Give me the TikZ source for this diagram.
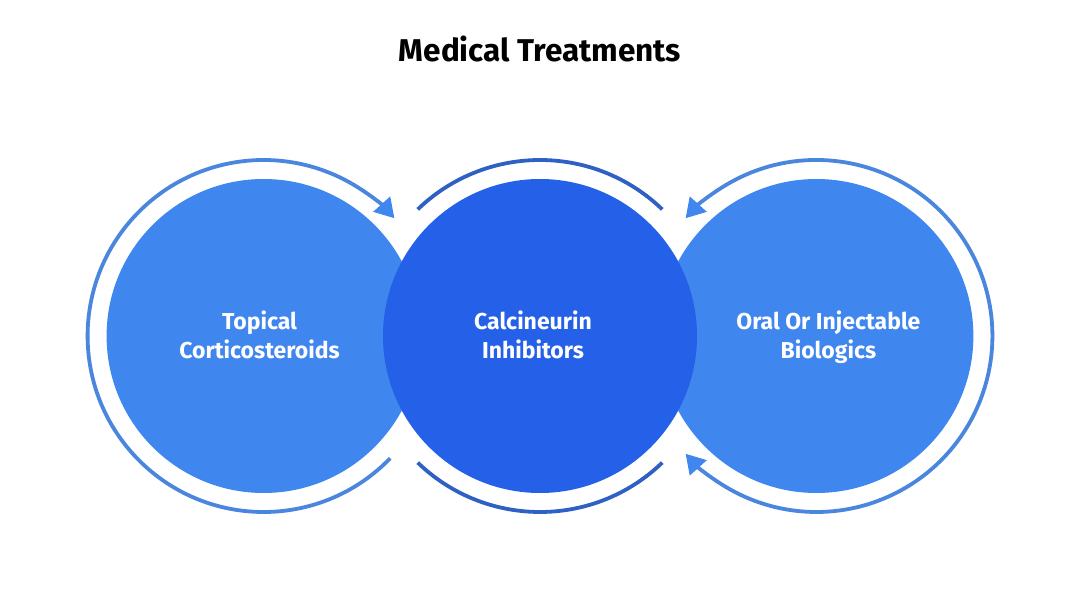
\documentclass[tikz,border=0pt]{standalone}
\usepackage{fontspec}
\setmainfont{Fira Sans}
\usetikzlibrary{positioning,arrows.meta,backgrounds}
\definecolor{sidefill}{HTML}{3F86EE}
\definecolor{midfill}{HTML}{2561E8}
\definecolor{sidering}{HTML}{4A86DE}
\definecolor{midring}{HTML}{2F60C4}
\tikzset{
  bubble/.style={circle, minimum size=314pt, inner sep=0pt},
  caption/.style={align=center, text=white, inner sep=0pt,
    font=\fontsize{23}{29}\selectfont\bfseries},
  ring/.style={line width=3.8pt, line cap=butt},
  tipped/.style={-{Triangle[length=19pt,width=22pt,color=sidefill]}},
}

\begin{document}
\begin{tikzpicture}[x=1pt, y=1pt]
    \useasboundingbox (-540,-272) rectangle (540,336);

    \node[bubble, fill=midfill] (mid) at (0,0) {};
    \begin{scope}[on background layer]
      \node[bubble, fill=sidefill, left=-38pt of mid] (topical) {};
      \node[bubble, fill=sidefill, right=-38pt of mid] (oral) {};
    \end{scope}

    \node[caption] (midtext) at ([xshift=-7pt,yshift=-2.5pt]mid) {\strut Calcineurin\\\strut Inhibitors};
    \node[caption] (topicaltext) at ([xshift=-4pt,yshift=-2.5pt]topical) {\strut Topical\\\strut Corticosteroids};
    \node[caption] (oraltext) at ([xshift=12pt,yshift=-2.5pt]oral) {\strut Oral Or Injectable\\\strut Biologics};

    \node[above=113pt of mid, font=\fontsize{31.5}{36}\selectfont\bfseries] (title) {Medical Treatments};

    % rings round the circles
    \draw[ring, midring] ([shift={(134:176)}]mid.center) arc[start angle=134, end angle=46, radius=176];
    \draw[ring, midring] ([shift={(-134:176)}]mid.center) arc[start angle=-134, end angle=-46, radius=176];

    \draw[ring, sidering] ([shift={(-44:176)}]topical.center) arc[start angle=-44, end angle=-300, radius=176];
    \draw[ring, sidering, tipped] ([shift={(60:176)}]topical.center) arc[start angle=60, end angle=42, radius=176];

    \draw[ring, sidering] ([shift={(120:176)}]oral.center) arc[start angle=120, end angle=-120, radius=176];
    \draw[ring, sidering, tipped] ([shift={(120:176)}]oral.center) arc[start angle=120, end angle=138, radius=176];
    \draw[ring, sidering, tipped] ([shift={(-120:176)}]oral.center) arc[start angle=-120, end angle=-138, radius=176];
\end{tikzpicture}
\end{document}
